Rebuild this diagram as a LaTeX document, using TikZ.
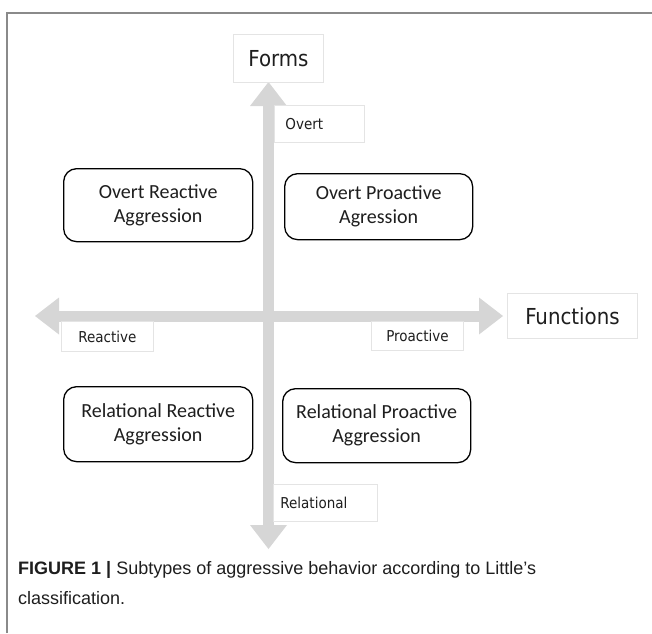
\documentclass[tikz,border=0pt]{standalone}
\usepackage{fontspec}
\setmainfont{Liberation Sans}
\newfontfamily\boxfont{Carlito}
\newfontfamily\labfont{DejaVu Sans Condensed}
\usetikzlibrary{arrows.meta}
\definecolor{axisgray}{HTML}{D6D6D6}
\definecolor{labborder}{HTML}{E4E4E4}
\definecolor{framegray}{HTML}{8A8A8A}
\definecolor{txt}{HTML}{1E1E1E}
\tikzset{
  axis/.style={line width=11pt, draw=axisgray,
    {Triangle[width=37pt,length=24pt,line width=0pt]}-{Triangle[width=37pt,length=24pt,line width=0pt]}},
  labbox/.style={draw=labborder, line width=0.9pt, fill=white, text=txt,
    inner sep=0pt, anchor=north west},
  smalllab/.style={labbox, font=\labfont\fontsize{15}{18}\selectfont},
  biglab/.style={labbox, font=\labfont\fontsize{22}{26}\selectfont},
  quadbox/.style={draw=black, line width=1.3pt, rounded corners=13pt, fill=white,
    text=txt, align=center, inner sep=0pt, anchor=north west,
    font=\boxfont\fontsize{20}{24}\selectfont},
  captext/.style={anchor=base west, inner sep=0pt, text=txt, font=\fontsize{18}{22}\selectfont},
}
\begin{document}
\begin{tikzpicture}[x=1pt,y=-1pt]
\useasboundingbox (0,0) rectangle (652,633);
% frame
\draw[framegray, line width=1.3pt] (7,633) -- (7,13) -- (652,13);
% axes
\coordinate (vtop) at (268.5,82);
\coordinate (vbot) at (268.5,549);
\coordinate (hleft) at (35,316);
\coordinate (hright) at (503,316);
\draw[axis] (vbot) -- (vtop);
\draw[axis] (hleft) -- (hright);
% axis labels
\node[biglab, minimum width=90pt, minimum height=48pt] (forms) at (233,34) {Forms};
\node[biglab, minimum width=130pt, minimum height=45pt] (functions) at (507,293) {Functions};
\node[smalllab, minimum height=37pt, text width=68pt, inner xsep=11pt, align=left] (overt) at (274,105) {Overt};
\node[smalllab, minimum width=92pt, minimum height=30pt] (reactive) at (61,321) {Reactive};
\node[smalllab, minimum width=92pt, minimum height=29pt] (proactive) at (371,321) {Proactive};
\node[smalllab, minimum height=37pt, text width=90pt, inner xsep=7pt, align=left] (relational) at (273,484) {Relational};
% quadrant boxes
\node[quadbox, minimum width=189pt, minimum height=73pt] (ora) at (63,168) {Overt Reactive\\Aggression};
\node[quadbox, minimum width=188pt, minimum height=66pt] (opa) at (284,173) {Overt Proactive\\Agression};
\node[quadbox, minimum width=189pt, minimum height=75pt] (rra) at (63,386) {Relational Reactive\\Aggression};
\node[quadbox, minimum width=188pt, minimum height=74pt] (rpa) at (282,388) {Relational Proactive\\Aggression};
% caption
\node[captext] (cap1) at (18,574) {\textbf{FIGURE 1 |} Subtypes of aggressive behavior according to Little’s};
\node[captext] (cap2) at (18,604) {classification.};
\end{tikzpicture}
\end{document}
